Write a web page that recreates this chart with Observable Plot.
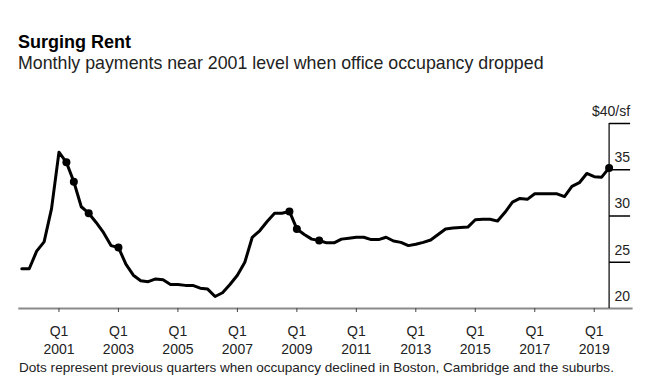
<!DOCTYPE html>
<html>
<head>
<meta charset="utf-8">
<script src="https://cdn.jsdelivr.net/npm/d3@7"></script>
<script src="https://cdn.jsdelivr.net/npm/@observablehq/plot@0.6"></script>
<style>
  html, body { margin: 0; padding: 0; background: #fff; }
  body { font-family: "Liberation Sans", Arial, sans-serif; color: #1a1a1a; }
  #wrap { position: relative; width: 655px; height: 389px; overflow: hidden; }
  #title { position: absolute; left: 18px; top: 33px; font-size: 18px; line-height: 18px; font-weight: bold; color: #000; white-space: nowrap; }
  #subtitle { position: absolute; left: 18px; top: 54px; font-size: 17.8px; line-height: 18px; color: #222; white-space: nowrap; }
  #chart { position: absolute; left: 0; top: 90px; }
  #caption { position: absolute; left: 19px; top: 361px; font-size: 13.55px; line-height: 14px; color: #222; white-space: nowrap; }
</style>
</head>
<body>
<div id="wrap">
  <div id="title">Surging Rent</div>
  <div id="subtitle">Monthly payments near 2001 level when office occupancy dropped</div>
  <div id="chart"></div>
  <div id="caption">Dots represent previous quarters when occupancy declined in Boston, Cambridge and the suburbs.</div>
</div>
<script>
// Quarters (x categories)
const quarters = [
  "1999 Q4",
  "2000 Q1","2000 Q2","2000 Q3","2000 Q4",
  "2001 Q1","2001 Q2","2001 Q3","2001 Q4",
  "2002 Q1","2002 Q2","2002 Q3","2002 Q4",
  "2003 Q1","2003 Q2","2003 Q3","2003 Q4",
  "2004 Q1","2004 Q2","2004 Q3","2004 Q4",
  "2005 Q1","2005 Q2","2005 Q3","2005 Q4",
  "2006 Q1","2006 Q2","2006 Q3","2006 Q4",
  "2007 Q1","2007 Q2","2007 Q3","2007 Q4",
  "2008 Q1","2008 Q2","2008 Q3","2008 Q4",
  "2009 Q1","2009 Q2","2009 Q3","2009 Q4",
  "2010 Q1","2010 Q2","2010 Q3","2010 Q4",
  "2011 Q1","2011 Q2","2011 Q3","2011 Q4",
  "2012 Q1","2012 Q2","2012 Q3","2012 Q4",
  "2013 Q1","2013 Q2","2013 Q3","2013 Q4",
  "2014 Q1","2014 Q2","2014 Q3","2014 Q4",
  "2015 Q1","2015 Q2","2015 Q3","2015 Q4",
  "2016 Q1","2016 Q2","2016 Q3","2016 Q4",
  "2017 Q1","2017 Q2","2017 Q3","2017 Q4",
  "2018 Q1","2018 Q2","2018 Q3","2018 Q4",
  "2019 Q1","2019 Q2","2019 Q3"
];

// Asking rent, $ per square foot
const rent = [
  24.3,
  24.3, 26.2, 27.2, 30.8,
  36.9, 35.8, 33.7, 31.0,
  30.3, 29.3, 28.2, 26.8,
  26.6, 24.8, 23.6, 23.0,
  22.9, 23.2, 23.1, 22.6,
  22.6, 22.5, 22.5, 22.2,
  22.1, 21.3, 21.7, 22.6,
  23.6, 25.0, 27.7, 28.4,
  29.4, 30.3, 30.3, 30.5,
  28.6, 28.0, 27.5, 27.35,
  27.1, 27.1, 27.5, 27.6,
  27.7, 27.7, 27.45, 27.45,
  27.7, 27.3, 27.15, 26.8,
  26.95, 27.15, 27.4, 28.0,
  28.6, 28.7, 28.75, 28.8,
  29.6, 29.65, 29.65, 29.45,
  30.4, 31.5, 31.9, 31.8,
  32.4, 32.4, 32.4, 32.4,
  32.1, 33.2, 33.6, 34.6,
  34.25, 34.2, 35.2
];

// Quarters when occupancy declined (dots)
const declineQuarters = ["2001 Q2","2001 Q3","2002 Q1","2003 Q1","2008 Q4","2009 Q1","2009 Q4","2019 Q3"];

// Axis ticks
const xTickYears = [2001, 2003, 2005, 2007, 2009, 2011, 2013, 2015, 2017, 2019];
const yTicks = [20, 25, 30, 35, 40];
const yTickLabels = ["20", "25", "30", "35", "$40/sf"];

// Build table
const toYear = q => { const [y, qq] = q.split(" Q"); return +y + (+qq - 1) / 4; };
const data = quarters.map((q, i) => ({q, t: toYear(q), rent: rent[i]}));
const dots = data.filter(d => declineQuarters.includes(d.q));
const firstT = data[0].t;
const lastT = data[data.length - 1].t;
const yLabelData = yTicks.map((v, i) => ({v, label: yTickLabels[i]}));

const font = "Liberation Sans, Arial, sans-serif";
const W = 655, mL = 21.3, mR = 46.4, yTickLen = 21;
// length of the y tick lines expressed in x units (they reach into the right margin)
const tickSpan = yTickLen * (lastT - firstT) / (W - mL - mR);

const chart = Plot.plot({
  width: W,
  height: 270,
  marginLeft: mL,
  marginRight: mR,
  marginTop: 33,
  marginBottom: 52,
  style: {fontFamily: font, background: "transparent", overflow: "visible"},
  x: {domain: [firstT, lastT], label: null},
  y: {domain: [yTicks[0], yTicks[yTicks.length - 1]], label: null, axis: null},
  marks: [
    // baseline (gray, extending past the plot)
    Plot.ruleY([yTicks[0]], {stroke: "#8a8a8a", strokeWidth: 2.2, insetLeft: -3, insetRight: -24}),
    // x axis ticks and two-line labels
    Plot.axisX({
      ticks: xTickYears,
      tickFormat: d => "Q1\n" + d,
      tickSize: 4,
      tickPadding: 11,
      fontSize: 14,
      lineHeight: 1.27,
      stroke: "#444",
      fill: "#222",
      label: null
    }),
    // right y-axis tick lines, extending right from the axis line into the margin
    Plot.link(yTicks.slice(1), {
      x1: lastT, x2: lastT + tickSpan,
      y1: d => d, y2: d => d,
      stroke: "#000", strokeWidth: 1.5
    }),
    // y tick labels, sitting above the tick lines, right-aligned to their ends
    Plot.text(yLabelData, {
      x: lastT,
      y: "v",
      text: "label",
      textAnchor: "end",
      dx: yTickLen,
      dy: -12,
      fontSize: 14,
      fill: "#222"
    }),
    // vertical axis line at the last quarter
    Plot.ruleX([lastT], {y1: yTicks[0], y2: yTicks[yTicks.length - 1], stroke: "#000", strokeWidth: 1.2}),
    // rent line
    Plot.line(data, {x: "t", y: "rent", stroke: "#000", strokeWidth: 3, strokeLinejoin: "round", strokeLinecap: "round"}),
    // decline dots
    Plot.dot(dots, {x: "t", y: "rent", r: 4, fill: "#000"})
  ]
});
document.getElementById("chart").appendChild(chart);
</script>
</body>
</html>
